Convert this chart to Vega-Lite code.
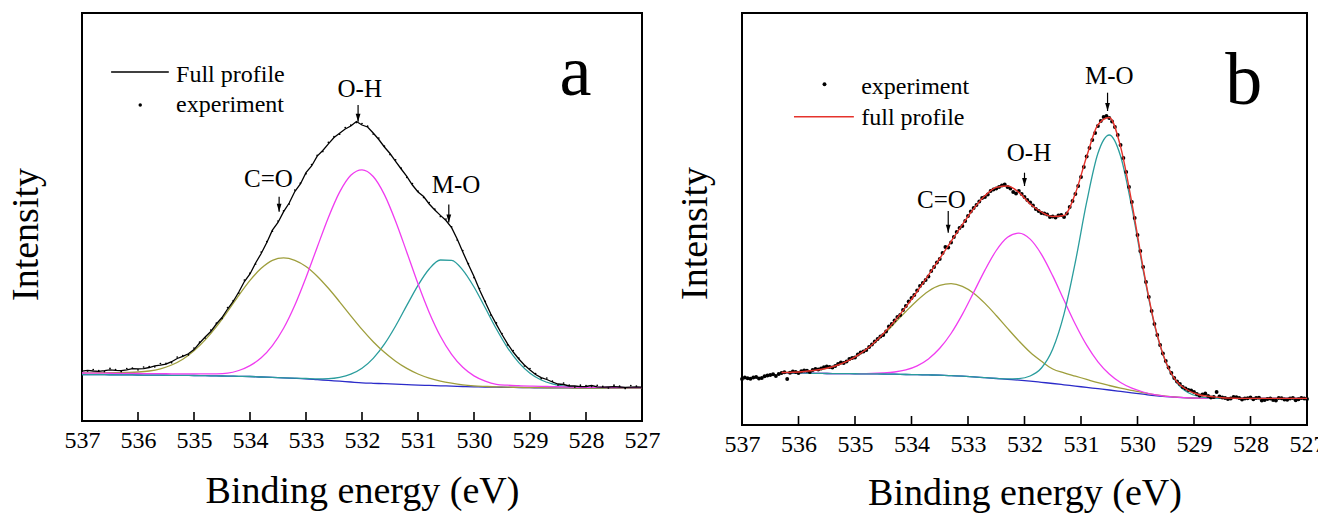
{
  "$schema": "https://vega.github.io/schema/vega-lite/v6.json",
  "autosize": {"type": "pad"},
  "padding": {"left": 6, "top": 12, "right": 0, "bottom": 0},
  "background": "white",
  "bounds": "flush",
  "spacing": 100,
  "config": {
    "font": "'Times New Roman', 'Liberation Serif', Times, serif",
    "view": {"stroke": "#000", "strokeWidth": 2},
    "text": {"font": "'Times New Roman', 'Liberation Serif', Times, serif"},
    "axis": {"labelFont": "'Times New Roman', 'Liberation Serif', Times, serif", "titleFont": "'Times New Roman', 'Liberation Serif', Times, serif", "labelColor": "#000", "titleColor": "#000", "titleFontWeight": "normal", "grid": false, "domain": false, "tickColor": "#000"}
  },
  "datasets": {
    "tick_marks": [{"e":536,"lo":1,"hi":9},{"e":535,"lo":1,"hi":9},{"e":534,"lo":1,"hi":9},{"e":533,"lo":1,"hi":9},{"e":532,"lo":1,"hi":9},{"e":531,"lo":1,"hi":9},{"e":530,"lo":1,"hi":9},{"e":529,"lo":1,"hi":9},{"e":528,"lo":1,"hi":9}],
    "a_comp": [
      {"e":537.0,"bg":46.5,"co":48.2,"oh":48.0,"mo":46.5},
      {"e":536.8,"bg":46.4,"co":48.2,"oh":47.9,"mo":46.4},
      {"e":536.6,"bg":46.3,"co":48.3,"oh":47.8,"mo":46.3},
      {"e":536.4,"bg":46.2,"co":48.4,"oh":47.7,"mo":46.2},
      {"e":536.2,"bg":46.1,"co":48.6,"oh":47.6,"mo":46.1},
      {"e":536.0,"bg":46.0,"co":49.0,"oh":47.5,"mo":46.0},
      {"e":535.8,"bg":45.9,"co":50.0,"oh":47.4,"mo":45.9},
      {"e":535.6,"bg":45.8,"co":52.2,"oh":47.3,"mo":45.8},
      {"e":535.4,"bg":45.7,"co":56.0,"oh":47.2,"mo":45.7},
      {"e":535.2,"bg":45.6,"co":61.8,"oh":47.1,"mo":45.6},
      {"e":535.0,"bg":45.5,"co":70.2,"oh":47.1,"mo":45.5},
      {"e":534.8,"bg":45.3,"co":81.1,"oh":47.1,"mo":45.3},
      {"e":534.6,"bg":45.1,"co":94.4,"oh":47.2,"mo":45.1},
      {"e":534.4,"bg":44.9,"co":109.6,"oh":47.8,"mo":44.9},
      {"e":534.2,"bg":44.7,"co":125.6,"oh":50.5,"mo":44.7},
      {"e":534.0,"bg":44.5,"co":140.6,"oh":55.4,"mo":44.5},
      {"e":533.8,"bg":44.0,"co":152.7,"oh":63.2,"mo":44.0},
      {"e":533.6,"bg":43.6,"co":160.7,"oh":75.4,"mo":43.6},
      {"e":533.4,"bg":43.1,"co":163.1,"oh":92.7,"mo":43.1},
      {"e":533.2,"bg":42.7,"co":160.7,"oh":115.7,"mo":42.8},
      {"e":533.0,"bg":42.2,"co":154.5,"oh":143.5,"mo":42.5},
      {"e":532.8,"bg":41.4,"co":144.8,"oh":173.8,"mo":42.2},
      {"e":532.6,"bg":40.6,"co":132.7,"oh":203.6,"mo":42.4},
      {"e":532.4,"bg":39.8,"co":119.2,"oh":228.9,"mo":43.7},
      {"e":532.2,"bg":39.0,"co":105.2,"oh":245.8,"mo":46.8},
      {"e":532.0,"bg":38.2,"co":91.6,"oh":251.2,"mo":52.7},
      {"e":531.8,"bg":37.7,"co":79.3,"oh":244.5,"mo":62.6},
      {"e":531.6,"bg":37.3,"co":68.7,"oh":226.4,"mo":76.8},
      {"e":531.4,"bg":36.8,"co":59.8,"oh":199.8,"mo":95.0},
      {"e":531.2,"bg":36.4,"co":52.6,"oh":168.8,"mo":115.6},
      {"e":531.0,"bg":35.9,"co":47.0,"oh":137.2,"mo":135.7},
      {"e":530.8,"bg":35.6,"co":42.9,"oh":108.6,"mo":152.0},
      {"e":530.6,"bg":35.2,"co":39.9,"oh":84.8,"mo":161.0},
      {"e":530.4,"bg":34.9,"co":37.8,"oh":66.7,"mo":160.7},
      {"e":530.2,"bg":34.5,"co":36.2,"oh":53.7,"mo":150.9},
      {"e":530.0,"bg":34.2,"co":35.2,"oh":45.1,"mo":134.0},
      {"e":529.8,"bg":34.0,"co":34.6,"oh":39.8,"mo":113.2},
      {"e":529.6,"bg":33.8,"co":34.1,"oh":36.7,"mo":92.0},
      {"e":529.4,"bg":33.7,"co":33.9,"oh":35.8,"mo":73.2},
      {"e":529.2,"bg":33.5,"co":33.6,"oh":35.3,"mo":58.4},
      {"e":529.0,"bg":33.3,"co":33.4,"oh":34.9,"mo":47.8},
      {"e":528.8,"bg":33.2,"co":33.3,"oh":34.6,"mo":41.0},
      {"e":528.6,"bg":33.2,"co":33.2,"oh":34.4,"mo":37.1},
      {"e":528.4,"bg":33.1,"co":33.1,"oh":34.1,"mo":34.9},
      {"e":528.2,"bg":33.0,"co":33.0,"oh":33.8,"mo":33.8},
      {"e":528.0,"bg":33.0,"co":33.0,"oh":33.7,"mo":33.3},
      {"e":527.8,"bg":33.0,"co":33.0,"oh":33.6,"mo":33.1},
      {"e":527.6,"bg":33.0,"co":33.0,"oh":33.5,"mo":33.0},
      {"e":527.4,"bg":33.0,"co":33.0,"oh":33.5,"mo":33.0},
      {"e":527.2,"bg":33.0,"co":33.0,"oh":33.4,"mo":33.0},
      {"e":527.0,"bg":33.0,"co":33.0,"oh":33.4,"mo":33.0}
    ],
    "a_prof": [
      {"e":537.0,"fit":49.8,"exp":51.0},{"e":536.9,"fit":50.6,"exp":50.0},{"e":536.8,"fit":50.0,"exp":51.4},
      {"e":536.7,"fit":49.6,"exp":50.4},{"e":536.6,"fit":50.3,"exp":49.5},{"e":536.5,"fit":51.2,"exp":52.6},
      {"e":536.4,"fit":50.7,"exp":51.5},{"e":536.3,"fit":50.4,"exp":49.6},{"e":536.2,"fit":51.1,"exp":52.5},
      {"e":536.1,"fit":52.3,"exp":53.0},{"e":536.0,"fit":52.1,"exp":51.2},{"e":535.9,"fit":52.4,"exp":54.0},
      {"e":535.8,"fit":53.5,"exp":54.3},{"e":535.7,"fit":55.2,"exp":54.2},{"e":535.6,"fit":55.9,"exp":57.5},
      {"e":535.5,"fit":56.8,"exp":57.6},{"e":535.4,"fit":59.3,"exp":58.3},{"e":535.3,"fit":62.5,"exp":64.0},
      {"e":535.2,"fit":64.7,"exp":65.5},{"e":535.1,"fit":67.2,"exp":66.2},{"e":535.0,"fit":71.4,"exp":72.9},
      {"e":534.9,"fit":78.0,"exp":78.8},{"e":534.8,"fit":84.0,"exp":83.0},{"e":534.7,"fit":89.5,"exp":91.0},
      {"e":534.6,"fit":97.0,"exp":97.8},{"e":534.5,"fit":103.5,"exp":102.5},{"e":534.4,"fit":112.0,"exp":113.5},
      {"e":534.3,"fit":119.5,"exp":120.3},{"e":534.2,"fit":129.0,"exp":128.0},{"e":534.1,"fit":139.5,"exp":141.0},
      {"e":534.0,"fit":147.0,"exp":147.8},{"e":533.9,"fit":158.0,"exp":157.0},{"e":533.8,"fit":167.5,"exp":169.0},
      {"e":533.7,"fit":178.5,"exp":179.3},{"e":533.6,"fit":190.8,"exp":189.8},{"e":533.5,"fit":198.5,"exp":200.0},
      {"e":533.4,"fit":209.4,"exp":210.2},{"e":533.3,"fit":218.0,"exp":217.0},{"e":533.2,"fit":229.5,"exp":231.0},
      {"e":533.1,"fit":237.0,"exp":237.8},{"e":533.0,"fit":248.3,"exp":247.3},{"e":532.9,"fit":255.0,"exp":256.5},
      {"e":532.8,"fit":264.9,"exp":265.7},{"e":532.7,"fit":270.5,"exp":269.5},{"e":532.6,"fit":277.2,"exp":278.7},
      {"e":532.5,"fit":283.5,"exp":284.3},{"e":532.4,"fit":287.8,"exp":286.8},{"e":532.3,"fit":292.0,"exp":293.5},
      {"e":532.2,"fit":295.0,"exp":295.8},{"e":532.1,"fit":299.5,"exp":298.5},{"e":532.0,"fit":296.0,"exp":297.5},
      {"e":531.9,"fit":294.0,"exp":294.8},{"e":531.8,"fit":288.0,"exp":287.0},{"e":531.7,"fit":281.5,"exp":283.0},
      {"e":531.6,"fit":274.0,"exp":274.8},{"e":531.5,"fit":267.5,"exp":266.5},{"e":531.4,"fit":259.7,"exp":261.2},
      {"e":531.3,"fit":252.0,"exp":252.8},{"e":531.2,"fit":244.7,"exp":243.7},{"e":531.1,"fit":236.0,"exp":237.5},
      {"e":531.0,"fit":229.0,"exp":229.8},{"e":530.9,"fit":224.5,"exp":223.5},{"e":530.8,"fit":217.0,"exp":218.5},
      {"e":530.7,"fit":211.0,"exp":211.8},{"e":530.6,"fit":205.6,"exp":204.6},{"e":530.5,"fit":200.5,"exp":202.0},
      {"e":530.4,"fit":193.4,"exp":194.2},{"e":530.3,"fit":182.0,"exp":181.0},{"e":530.2,"fit":169.0,"exp":170.5},
      {"e":530.1,"fit":156.5,"exp":157.3},{"e":530.0,"fit":144.4,"exp":143.4},{"e":529.9,"fit":131.0,"exp":132.5},
      {"e":529.8,"fit":118.9,"exp":119.7},{"e":529.7,"fit":107.0,"exp":106.0},{"e":529.6,"fit":96.6,"exp":98.1},
      {"e":529.5,"fit":86.5,"exp":87.3},{"e":529.4,"fit":77.2,"exp":76.2},{"e":529.3,"fit":69.0,"exp":70.5},
      {"e":529.2,"fit":62.0,"exp":62.8},{"e":529.1,"fit":56.0,"exp":55.0},{"e":529.0,"fit":51.0,"exp":52.5},
      {"e":528.9,"fit":46.5,"exp":47.3},{"e":528.8,"fit":43.4,"exp":42.4},{"e":528.7,"fit":41.5,"exp":43.0},
      {"e":528.6,"fit":39.0,"exp":39.8},{"e":528.5,"fit":37.0,"exp":36.0},{"e":528.4,"fit":36.5,"exp":38.0},
      {"e":528.3,"fit":35.0,"exp":35.8},{"e":528.2,"fit":35.0,"exp":34.0},{"e":528.1,"fit":34.3,"exp":35.8},
      {"e":528.0,"fit":34.5,"exp":35.3},{"e":527.9,"fit":35.5,"exp":34.5},{"e":527.8,"fit":34.2,"exp":35.7},
      {"e":527.7,"fit":33.8,"exp":34.6},{"e":527.6,"fit":34.0,"exp":33.0},{"e":527.5,"fit":34.3,"exp":35.8},
      {"e":527.4,"fit":34.0,"exp":34.8},{"e":527.3,"fit":33.6,"exp":32.6},{"e":527.2,"fit":33.9,"exp":35.4},
      {"e":527.1,"fit":34.1,"exp":34.9},{"e":527.0,"fit":33.9,"exp":32.9}
    ],
    "b_comp": [
      {"e":536.3,"bg":52.0,"co":52.5,"oh":52.0,"mo":52.0},
      {"e":536.1,"bg":51.9,"co":52.8,"oh":51.9,"mo":51.9},
      {"e":535.9,"bg":51.8,"co":53.5,"oh":51.8,"mo":51.8},
      {"e":535.7,"bg":51.7,"co":54.7,"oh":51.7,"mo":51.7},
      {"e":535.5,"bg":51.5,"co":56.7,"oh":51.5,"mo":51.5},
      {"e":535.3,"bg":51.4,"co":60.0,"oh":51.4,"mo":51.4},
      {"e":535.1,"bg":51.3,"co":64.8,"oh":51.3,"mo":51.3},
      {"e":534.9,"bg":51.2,"co":71.4,"oh":51.4,"mo":51.2},
      {"e":534.7,"bg":51.1,"co":79.9,"oh":51.5,"mo":51.1},
      {"e":534.5,"bg":51.0,"co":90.2,"oh":52.0,"mo":51.0},
      {"e":534.3,"bg":50.8,"co":101.7,"oh":53.0,"mo":50.8},
      {"e":534.1,"bg":50.5,"co":113.5,"oh":55.1,"mo":50.5},
      {"e":533.9,"bg":50.3,"co":124.6,"oh":59.2,"mo":50.3},
      {"e":533.7,"bg":50.1,"co":133.8,"oh":66.1,"mo":50.1},
      {"e":533.5,"bg":49.8,"co":139.6,"oh":76.7,"mo":49.8},
      {"e":533.3,"bg":49.3,"co":141.3,"oh":91.5,"mo":49.3},
      {"e":533.1,"bg":48.8,"co":138.6,"oh":110.6,"mo":48.8},
      {"e":532.9,"bg":48.1,"co":131.8,"oh":132.6,"mo":48.1},
      {"e":532.7,"bg":47.3,"co":121.6,"oh":154.9,"mo":47.3},
      {"e":532.5,"bg":46.5,"co":109.5,"oh":174.5,"mo":46.6},
      {"e":532.3,"bg":45.7,"co":96.6,"oh":187.7,"mo":46.1},
      {"e":532.1,"bg":44.9,"co":84.1,"oh":191.9,"mo":46.4},
      {"e":531.9,"bg":43.9,"co":72.7,"oh":185.9,"mo":49.0},
      {"e":531.7,"bg":42.7,"co":63.7,"oh":170.7,"mo":57.0},
      {"e":531.5,"bg":41.5,"co":56.0,"oh":149.1,"mo":76.0},
      {"e":531.3,"bg":40.2,"co":52.2,"oh":124.7,"mo":111.1},
      {"e":531.1,"bg":38.9,"co":48.9,"oh":100.7,"mo":163.0},
      {"e":530.9,"bg":37.6,"co":45.6,"oh":79.8,"mo":222.8},
      {"e":530.7,"bg":36.3,"co":42.3,"oh":63.2,"mo":271.7},
      {"e":530.5,"bg":35.0,"co":39.5,"oh":51.0,"mo":290.0},
      {"e":530.3,"bg":33.6,"co":36.9,"oh":42.5,"mo":269.0},
      {"e":530.1,"bg":32.2,"co":34.6,"oh":36.8,"mo":217.4},
      {"e":529.9,"bg":30.8,"co":32.4,"oh":33.0,"mo":154.9},
      {"e":529.7,"bg":29.3,"co":30.3,"oh":30.3,"mo":100.2},
      {"e":529.5,"bg":28.3,"co":28.8,"oh":28.7,"mo":62.8},
      {"e":529.3,"bg":27.6,"co":27.8,"oh":27.8,"mo":41.9},
      {"e":529.1,"bg":27.1,"co":27.1,"oh":27.1,"mo":32.2},
      {"e":528.9,"bg":26.9,"co":26.9,"oh":26.9,"mo":28.4},
      {"e":528.7,"bg":26.7,"co":26.7,"oh":26.7,"mo":27.1},
      {"e":528.5,"bg":26.6,"co":26.6,"oh":26.6,"mo":26.6},
      {"e":528.3,"bg":26.6,"co":26.6,"oh":26.6,"mo":26.6},
      {"e":528.1,"bg":26.6,"co":26.6,"oh":26.6,"mo":26.6},
      {"e":527.9,"bg":26.6,"co":26.6,"oh":26.6,"mo":26.6},
      {"e":527.7,"bg":26.6,"co":26.6,"oh":26.6,"mo":26.6},
      {"e":527.5,"bg":26.6,"co":26.6,"oh":26.6,"mo":26.6},
      {"e":527.3,"bg":26.6,"co":26.6,"oh":26.6,"mo":26.6},
      {"e":527.1,"bg":26.6,"co":26.6,"oh":26.6,"mo":26.6},
      {"e":527.0,"bg":26.6,"co":26.6,"oh":26.6,"mo":26.6}
    ],
    "b_fit": [
      {"e":536.3,"fit":52.5},{"e":536.1,"fit":52.8},{"e":535.9,"fit":53.5},{"e":535.7,"fit":54.7},
      {"e":535.5,"fit":56.7},{"e":535.3,"fit":60.0},{"e":535.1,"fit":64.8},{"e":534.9,"fit":71.6},
      {"e":534.7,"fit":80.3},{"e":534.5,"fit":91.2},{"e":534.3,"fit":103.9},{"e":534.1,"fit":118.1},
      {"e":533.9,"fit":133.5},{"e":533.7,"fit":149.8},{"e":533.5,"fit":166.5},{"e":533.3,"fit":183.5},
      {"e":533.1,"fit":200.4},{"e":532.9,"fit":216.3},{"e":532.7,"fit":229.2},{"e":532.5,"fit":237.6},
      {"e":532.3,"fit":239.0},{"e":532.1,"fit":232.6},{"e":531.9,"fit":221.0},{"e":531.7,"fit":213.0},
      {"e":531.5,"fit":208.5},{"e":531.3,"fit":209.5},{"e":531.1,"fit":231.5},{"e":530.9,"fit":268.5},
      {"e":530.7,"fit":300.3},{"e":530.5,"fit":307.5},{"e":530.3,"fit":278.4},{"e":530.1,"fit":222.2},
      {"e":529.9,"fit":157.1},{"e":529.7,"fit":101.2},{"e":529.5,"fit":63.2},{"e":529.3,"fit":43.0},
      {"e":529.1,"fit":34.5},{"e":528.9,"fit":30.0},{"e":528.7,"fit":28.5},{"e":528.5,"fit":27.2},
      {"e":528.3,"fit":26.8},{"e":528.1,"fit":26.6},{"e":527.9,"fit":26.6},{"e":527.7,"fit":26.6},
      {"e":527.5,"fit":26.6},{"e":527.3,"fit":26.6},{"e":527.1,"fit":26.6},{"e":527.0,"fit":26.6}
    ],
    "b_exp": [
      {"e":537.0,"v":46.0},{"e":536.95,"v":47.5},{"e":536.9,"v":46.8},{"e":536.85,"v":46.2},{"e":536.8,"v":47.5},
      {"e":536.75,"v":48.0},{"e":536.7,"v":46.5},{"e":536.65,"v":47.0},{"e":536.6,"v":48.8},{"e":536.55,"v":49.5},
      {"e":536.5,"v":50.0},{"e":536.45,"v":50.8},{"e":536.4,"v":49.0},{"e":536.35,"v":51.0},{"e":536.3,"v":52.0},
      {"e":536.25,"v":52.8},{"e":536.2,"v":46.0},{"e":536.15,"v":52.2},{"e":536.1,"v":53.5},{"e":536.05,"v":53.0},
      {"e":536.0,"v":52.0},{"e":535.95,"v":53.8},{"e":535.9,"v":54.5},{"e":535.85,"v":54.2},{"e":535.8,"v":53.0},
      {"e":535.75,"v":55.0},{"e":535.7,"v":56.0},{"e":535.65,"v":55.5},{"e":535.6,"v":56.5},{"e":535.55,"v":57.8},
      {"e":535.5,"v":58.5},{"e":535.45,"v":58.0},{"e":535.4,"v":57.5},{"e":535.35,"v":59.0},{"e":535.3,"v":61.0},
      {"e":535.25,"v":62.5},{"e":535.2,"v":62.0},{"e":535.15,"v":63.5},{"e":535.1,"v":66.0},{"e":535.05,"v":67.0},
      {"e":535.0,"v":67.5},{"e":534.95,"v":70.5},{"e":534.9,"v":72.5},{"e":534.85,"v":73.5},{"e":534.8,"v":75.0},
      {"e":534.75,"v":78.0},{"e":534.7,"v":80.5},{"e":534.65,"v":83.5},{"e":534.6,"v":86.0},{"e":534.55,"v":88.5},
      {"e":534.5,"v":90.0},{"e":534.45,"v":93.5},{"e":534.4,"v":98.5},{"e":534.35,"v":101.0},{"e":534.3,"v":104.5},
      {"e":534.25,"v":108.0},{"e":534.2,"v":110.0},{"e":534.15,"v":115.0},{"e":534.1,"v":119.0},{"e":534.05,"v":123.5},
      {"e":534.0,"v":127.0},{"e":533.95,"v":130.0},{"e":533.9,"v":134.5},{"e":533.85,"v":139.0},{"e":533.8,"v":142.0},
      {"e":533.75,"v":145.0},{"e":533.7,"v":148.5},{"e":533.65,"v":154.0},{"e":533.6,"v":158.0},{"e":533.55,"v":162.5},
      {"e":533.5,"v":166.0},{"e":533.45,"v":172.0},{"e":533.4,"v":178.0},{"e":533.35,"v":177.5},{"e":533.3,"v":182.5},
      {"e":533.25,"v":188.0},{"e":533.2,"v":193.0},{"e":533.15,"v":197.0},{"e":533.1,"v":199.0},{"e":533.05,"v":204.0},
      {"e":533.0,"v":209.0},{"e":532.95,"v":213.5},{"e":532.9,"v":217.0},{"e":532.85,"v":220.0},{"e":532.8,"v":223.5},
      {"e":532.75,"v":227.0},{"e":532.7,"v":228.0},{"e":532.65,"v":230.5},{"e":532.6,"v":234.0},{"e":532.55,"v":235.5},
      {"e":532.5,"v":236.5},{"e":532.45,"v":238.0},{"e":532.4,"v":239.5},{"e":532.35,"v":240.5},{"e":532.3,"v":238.0},
      {"e":532.25,"v":236.5},{"e":532.2,"v":233.0},{"e":532.15,"v":231.5},{"e":532.1,"v":234.0},{"e":532.05,"v":231.0},
      {"e":532.0,"v":228.0},{"e":531.95,"v":225.0},{"e":531.9,"v":222.5},{"e":531.85,"v":219.5},{"e":531.8,"v":216.0},
      {"e":531.75,"v":214.0},{"e":531.7,"v":212.0},{"e":531.65,"v":211.5},{"e":531.6,"v":210.5},{"e":531.55,"v":208.0},
      {"e":531.5,"v":208.5},{"e":531.45,"v":207.5},{"e":531.4,"v":209.5},{"e":531.35,"v":210.0},{"e":531.3,"v":208.0},
      {"e":531.25,"v":211.5},{"e":531.2,"v":218.0},{"e":531.15,"v":224.0},{"e":531.1,"v":231.0},{"e":531.05,"v":239.0},
      {"e":531.0,"v":248.0},{"e":530.95,"v":258.0},{"e":530.9,"v":268.5},{"e":530.85,"v":277.0},{"e":530.8,"v":285.0},
      {"e":530.75,"v":292.0},{"e":530.7,"v":299.0},{"e":530.65,"v":304.0},{"e":530.6,"v":308.0},{"e":530.55,"v":309.0},
      {"e":530.5,"v":307.0},{"e":530.45,"v":303.5},{"e":530.4,"v":298.0},{"e":530.35,"v":290.0},{"e":530.3,"v":280.0},
      {"e":530.25,"v":267.0},{"e":530.2,"v":253.0},{"e":530.15,"v":238.0},{"e":530.1,"v":223.0},{"e":530.05,"v":207.0},
      {"e":530.0,"v":190.0},{"e":529.95,"v":174.0},{"e":529.9,"v":158.0},{"e":529.85,"v":143.0},{"e":529.8,"v":128.0},
      {"e":529.75,"v":114.0},{"e":529.7,"v":101.0},{"e":529.65,"v":90.0},{"e":529.6,"v":80.0},{"e":529.55,"v":71.5},
      {"e":529.5,"v":64.0},{"e":529.45,"v":57.5},{"e":529.4,"v":52.0},{"e":529.35,"v":47.0},{"e":529.3,"v":43.5},
      {"e":529.25,"v":41.0},{"e":529.2,"v":38.0},{"e":529.15,"v":36.5},{"e":529.1,"v":35.0},{"e":529.05,"v":34.5},
      {"e":529.0,"v":33.0},{"e":528.95,"v":31.0},{"e":528.9,"v":29.5},{"e":528.85,"v":30.5},{"e":528.8,"v":31.5},
      {"e":528.75,"v":29.0},{"e":528.7,"v":27.5},{"e":528.65,"v":28.0},{"e":528.6,"v":33.0},{"e":528.55,"v":28.5},
      {"e":528.5,"v":27.5},{"e":528.45,"v":27.0},{"e":528.4,"v":26.0},{"e":528.35,"v":26.5},{"e":528.3,"v":28.0},
      {"e":528.25,"v":27.8},{"e":528.2,"v":27.0},{"e":528.15,"v":25.5},{"e":528.1,"v":26.5},{"e":528.05,"v":26.8},
      {"e":528.0,"v":27.5},{"e":527.95,"v":25.8},{"e":527.9,"v":27.0},{"e":527.85,"v":27.2},{"e":527.8,"v":24.5},
      {"e":527.75,"v":25.0},{"e":527.7,"v":26.0},{"e":527.65,"v":26.5},{"e":527.6,"v":25.0},{"e":527.55,"v":24.5},
      {"e":527.5,"v":27.0},{"e":527.45,"v":26.8},{"e":527.4,"v":25.5},{"e":527.35,"v":25.2},{"e":527.3,"v":26.5},
      {"e":527.25,"v":27.0},{"e":527.2,"v":24.8},{"e":527.15,"v":25.8},{"e":527.1,"v":27.0},{"e":527.05,"v":26.5},
      {"e":527.0,"v":26.0}
    ],
    "a_labels": [{"t":"O-H","e":532.04,"v":324},{"t":"C=O","e":533.67,"v":234.3},{"t":"M-O","e":530.32,"v":227.7}],
    "a_arrows": [{"e":532.07,"v1":316,"v2":299.3},{"e":533.48,"v1":224.3,"v2":209.3},{"e":530.45,"v1":216.5,"v2":198.5}],
    "a_leg_line": [{"e":536.48,"e2":535.45,"v":349}],
    "a_leg_dot": [{"e":535.96,"v":316}],
    "a_leg_text": [{"t":"Full profile","e":535.32,"v":339},{"t":"experiment","e":535.32,"v":309.3}],
    "a_letter": [{"t":"a","e":528.19,"v":325.7}],
    "b_labels": [{"t":"O-H","e":531.92,"v":264.5},{"t":"C=O","e":533.47,"v":217.3},{"t":"M-O","e":530.5,"v":340.6}],
    "b_arrows": [{"e":532.0,"v1":252.3,"v2":239},{"e":533.35,"v1":214,"v2":192.3},{"e":530.53,"v1":332.3,"v2":314}],
    "b_leg_line": [{"e":536.08,"e2":535.02,"v":308.3}],
    "b_leg_dot": [{"e":535.54,"v":340.7}],
    "b_leg_text": [{"t":"experiment","e":534.89,"v":331.3},{"t":"full profile","e":534.89,"v":300}],
    "b_letter": [{"t":"b","e":528.12,"v":320.7}]
  },
  "hconcat": [
    {
      "width": 560,
      "height": 408,
      "encoding": {
        "x": {"field": "e", "type": "quantitative",
          "scale": {"domain": [537, 527], "nice": false, "zero": false},
          "axis": {"values": [537,536,535,534,533,532,531,530,529,528,527], "format": "d", "labelFlush": false, "labelOverlap": false,
            "ticks": false, "labelPadding": 7, "labelFontSize": 24,
            "title": "Binding energy (eV)", "titleFontSize": 38, "titlePadding": 20}},
        "y": {"field": "bg", "type": "quantitative", "scale": {"domain": [0, 408], "nice": false, "zero": false},
          "axis": {"labels": false, "ticks": false, "title": "Intensity", "titleFontSize": 38, "titleAngle": 270, "titleAlign": "center", "titleBaseline": "middle", "titleX": -55.5, "titleY": 221}}
      },
      "layer": [
        {"data": {"name": "a_comp"}, "mark": {"type": "line", "interpolate": "monotone", "color": "#2b2bc9", "strokeWidth": 1.3}},
        {"data": {"name": "a_comp"}, "mark": {"type": "line", "interpolate": "monotone", "color": "#2a9d9d", "strokeWidth": 1.3},
          "encoding": {"y": {"field": "mo", "type": "quantitative"}}},
        {"data": {"name": "a_comp"}, "mark": {"type": "line", "interpolate": "monotone", "color": "#9e9e3c", "strokeWidth": 1.3},
          "encoding": {"y": {"field": "co", "type": "quantitative"}}},
        {"data": {"name": "a_comp"}, "mark": {"type": "line", "interpolate": "monotone", "color": "#f03cf0", "strokeWidth": 1.3},
          "encoding": {"y": {"field": "oh", "type": "quantitative"}}},
        {"data": {"name": "a_prof"}, "mark": {"type": "point", "filled": true, "shape": "circle", "size": 3, "color": "#000", "opacity": 1},
          "encoding": {"y": {"field": "exp", "type": "quantitative"}}},
        {"data": {"name": "a_prof"}, "mark": {"type": "line", "color": "#000", "strokeWidth": 1.3},
          "encoding": {"y": {"field": "fit", "type": "quantitative"}}},
        {"data": {"name": "tick_marks"}, "mark": {"type": "rule", "color": "#000", "strokeWidth": 1.6, "opacity": 1},
          "encoding": {"y": {"field": "lo", "type": "quantitative"}, "y2": {"field": "hi"}}},
        {"data": {"name": "a_labels"}, "mark": {"type": "text", "fontSize": 25, "align": "center", "baseline": "alphabetic", "color": "#000"},
          "encoding": {"y": {"field": "v", "type": "quantitative"}, "text": {"field": "t"}}},
        {"data": {"name": "a_arrows"}, "mark": {"type": "rule", "color": "#000", "strokeWidth": 1.2},
          "encoding": {"y": {"field": "v1", "type": "quantitative"}, "y2": {"field": "v2"}}},
        {"data": {"name": "a_arrows"}, "mark": {"type": "point", "filled": true, "shape": "M-0.6,-2L0.6,-2L0,0Z", "size": 64, "color": "#000", "opacity": 1},
          "encoding": {"y": {"field": "v2", "type": "quantitative"}}},
        {"data": {"name": "a_leg_line"}, "mark": {"type": "rule", "color": "#000", "strokeWidth": 1.3},
          "encoding": {"x2": {"field": "e2"}, "y": {"field": "v", "type": "quantitative"}}},
        {"data": {"name": "a_leg_dot"}, "mark": {"type": "point", "filled": true, "shape": "circle", "size": 12, "color": "#000", "opacity": 1},
          "encoding": {"y": {"field": "v", "type": "quantitative"}}},
        {"data": {"name": "a_leg_text"}, "mark": {"type": "text", "fontSize": 24, "align": "left", "baseline": "alphabetic", "color": "#000"},
          "encoding": {"y": {"field": "v", "type": "quantitative"}, "text": {"field": "t"}}},
        {"data": {"name": "a_letter"}, "mark": {"type": "text", "fontSize": 72, "align": "center", "baseline": "alphabetic", "color": "#000"},
          "encoding": {"y": {"field": "v", "type": "quantitative"}, "text": {"field": "t"}}}
      ]
    },
    {
      "width": 565,
      "height": 412,
      "encoding": {
        "x": {"field": "e", "type": "quantitative",
          "scale": {"domain": [537, 527], "nice": false, "zero": false},
          "axis": {"values": [537,536,535,534,533,532,531,530,529,528,527], "format": "d", "labelFlush": false, "labelOverlap": false,
            "ticks": false, "labelPadding": 7, "labelFontSize": 24,
            "title": "Binding energy (eV)", "titleFontSize": 38, "titlePadding": 18}},
        "y": {"field": "bg", "type": "quantitative", "scale": {"domain": [0, 412], "nice": false, "zero": false},
          "axis": {"labels": false, "ticks": false, "title": "Intensity", "titleFontSize": 38, "titleAngle": 270, "titleAlign": "center", "titleBaseline": "middle", "titleX": -47, "titleY": 220}}
      },
      "layer": [
        {"data": {"name": "b_comp"}, "mark": {"type": "line", "interpolate": "monotone", "color": "#2b2bc9", "strokeWidth": 1.3}},
        {"data": {"name": "b_comp"}, "mark": {"type": "line", "interpolate": "monotone", "color": "#9e9e3c", "strokeWidth": 1.3},
          "encoding": {"y": {"field": "co", "type": "quantitative"}}},
        {"data": {"name": "b_comp"}, "mark": {"type": "line", "interpolate": "monotone", "color": "#f03cf0", "strokeWidth": 1.3},
          "encoding": {"y": {"field": "oh", "type": "quantitative"}}},
        {"data": {"name": "b_comp"}, "mark": {"type": "line", "interpolate": "monotone", "color": "#2a9d9d", "strokeWidth": 1.3},
          "encoding": {"y": {"field": "mo", "type": "quantitative"}}},
        {"data": {"name": "b_exp"}, "mark": {"type": "point", "filled": true, "shape": "circle", "size": 15, "color": "#000", "opacity": 1},
          "encoding": {"y": {"field": "v", "type": "quantitative"}}},
        {"data": {"name": "b_fit"}, "mark": {"type": "line", "interpolate": "monotone", "color": "#e5332c", "strokeWidth": 1.4},
          "encoding": {"y": {"field": "fit", "type": "quantitative"}}},
        {"data": {"name": "tick_marks"}, "mark": {"type": "rule", "color": "#000", "strokeWidth": 1.6, "opacity": 1},
          "encoding": {"y": {"field": "lo", "type": "quantitative"}, "y2": {"field": "hi"}}},
        {"data": {"name": "b_labels"}, "mark": {"type": "text", "fontSize": 25, "align": "center", "baseline": "alphabetic", "color": "#000"},
          "encoding": {"y": {"field": "v", "type": "quantitative"}, "text": {"field": "t"}}},
        {"data": {"name": "b_arrows"}, "mark": {"type": "rule", "color": "#000", "strokeWidth": 1.2},
          "encoding": {"y": {"field": "v1", "type": "quantitative"}, "y2": {"field": "v2"}}},
        {"data": {"name": "b_arrows"}, "mark": {"type": "point", "filled": true, "shape": "M-0.6,-2L0.6,-2L0,0Z", "size": 64, "color": "#000", "opacity": 1},
          "encoding": {"y": {"field": "v2", "type": "quantitative"}}},
        {"data": {"name": "b_leg_line"}, "mark": {"type": "rule", "color": "#e5332c", "strokeWidth": 1.4},
          "encoding": {"x2": {"field": "e2"}, "y": {"field": "v", "type": "quantitative"}}},
        {"data": {"name": "b_leg_dot"}, "mark": {"type": "point", "filled": true, "shape": "circle", "size": 15, "color": "#000", "opacity": 1},
          "encoding": {"y": {"field": "v", "type": "quantitative"}}},
        {"data": {"name": "b_leg_text"}, "mark": {"type": "text", "fontSize": 24, "align": "left", "baseline": "alphabetic", "color": "#000"},
          "encoding": {"y": {"field": "v", "type": "quantitative"}, "text": {"field": "t"}}},
        {"data": {"name": "b_letter"}, "mark": {"type": "text", "fontSize": 74, "align": "center", "baseline": "alphabetic", "color": "#000"},
          "encoding": {"y": {"field": "v", "type": "quantitative"}, "text": {"field": "t"}}}
      ]
    }
  ]
}
